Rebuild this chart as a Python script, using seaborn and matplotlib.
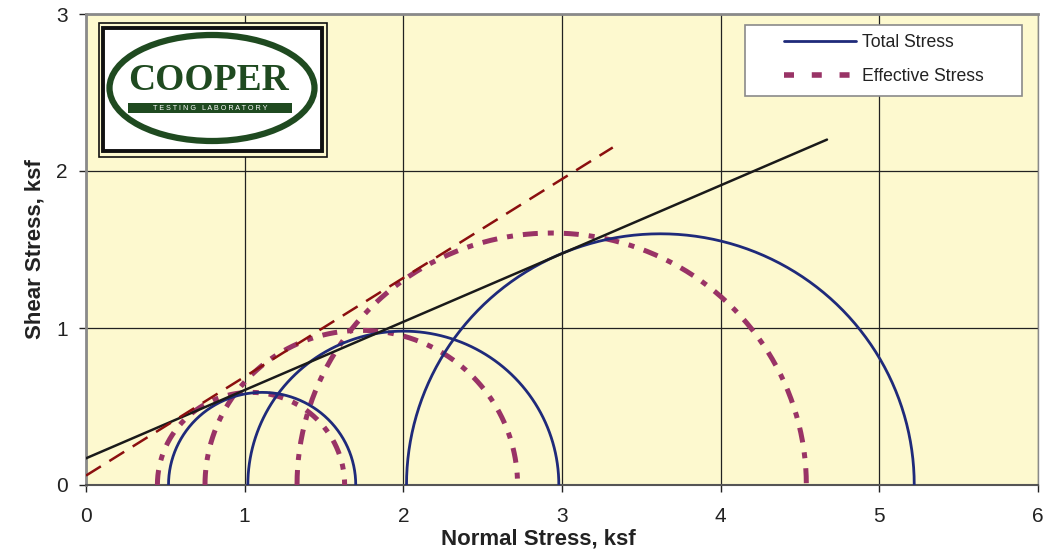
import numpy as np
import pandas as pd
import matplotlib
matplotlib.use("Agg")
import matplotlib.pyplot as plt
from matplotlib.lines import Line2D
from matplotlib.patches import Ellipse, Rectangle
import seaborn as sns

# Mohr circles: minor / major principal stress (ksf)
total_sigma3 = [0.52, 1.02, 2.02]
total_sigma1 = [1.70, 2.98, 5.22]
eff_sigma3 = [0.45, 0.75, 1.33]
eff_sigma1 = [1.63, 2.72, 4.54]

# Failure envelopes: (x, y) end points
total_env_x = [0.0, 4.67]
total_env_y = [0.17, 2.20]
eff_env_x = [0.0, 3.32]
eff_env_y = [0.06, 2.15]

x_ticks = [0, 1, 2, 3, 4, 5, 6]
y_ticks = [0, 1, 2, 3]

TOTAL_C = "#1f2a7a"
EFF_C = "#993366"
EFF_ENV_C = "#8b0f0f"
PLOT_BG = "#fdf9cf"


def circle_frame(s3_list, s1_list, kind):
    rows = []
    theta = np.linspace(np.pi, 0, 181)
    for i, (s3, s1) in enumerate(zip(s3_list, s1_list)):
        c, r = (s1 + s3) / 2, (s1 - s3) / 2
        for t in theta:
            rows.append({"sigma": c + r * np.cos(t), "tau": r * np.sin(t),
                         "test": f"{kind}{i}"})
    return pd.DataFrame(rows)


sns.set_theme(style="white")
plt.rcParams["font.family"] = ["Liberation Sans", "DejaVu Sans"]

fig = plt.figure(figsize=(10.46, 5.59), dpi=100)
W, H = 1046, 559
ax = fig.add_axes([86 / W, 1 - 485 / H, (1038 - 86) / W, (485 - 14) / H])
ax.set_facecolor(PLOT_BG)

tot = circle_frame(total_sigma3, total_sigma1, "t")
eff = circle_frame(eff_sigma3, eff_sigma1, "e")

for name, g in tot.groupby("test"):
    sns.lineplot(data=g, x="sigma", y="tau", sort=False, estimator=None,
                 color=TOTAL_C, lw=2.0, ax=ax, zorder=4)
for name, g in eff.groupby("test"):
    sns.lineplot(data=g, x="sigma", y="tau", sort=False, estimator=None,
                 color=EFF_C, lw=3.6, ax=ax, zorder=3,
                 dashes=False, linestyle=(0, (3.0, 2.0, 1.2, 2.0)))

sns.lineplot(x=total_env_x, y=total_env_y, color="#1a1a1a", lw=1.8,
             ax=ax, zorder=5)
sns.lineplot(x=eff_env_x, y=eff_env_y, color=EFF_ENV_C, lw=1.8, ax=ax,
             zorder=5, linestyle=(0, (7, 4)))

ax.set_xlim(0, 6)
ax.set_ylim(0, 3)
ax.set_xticks(x_ticks)
ax.set_yticks(y_ticks)
ax.grid(True, color="#222222", lw=0.9)
ax.set_axisbelow(True)
ax.tick_params(axis="both", labelsize=15, colors="#222222", length=5,
               width=1, direction="out", bottom=True, left=True)
ax.tick_params(axis="x", pad=11)
ax.tick_params(axis="y", pad=8)
for lbl in ax.get_xticklabels() + ax.get_yticklabels():
    lbl.set_color("#222222")

for side in ["left", "top"]:
    ax.spines[side].set_color("#8a8a8a")
    ax.spines[side].set_linewidth(2)
ax.spines["bottom"].set_color("#555555")
ax.spines["bottom"].set_linewidth(1.5)
ax.spines["right"].set_color("#8a8a8a")
ax.spines["right"].set_linewidth(1)

ax.set_xlabel("Normal Stress, ksf", fontsize=16, fontweight="bold",
              color="#222222", labelpad=0)
ax.xaxis.set_label_coords(0.475, -0.092)
ax.set_ylabel("Shear Stress, ksf", fontsize=16, fontweight="bold",
              color="#222222", labelpad=8)

# Legend: white box with a frameless legend inside
legend_box = Rectangle((745 / W, 1 - 96 / H), (1022 - 745) / W,
                       (96 - 25) / H, transform=fig.transFigure,
                       fc="white", ec="#8a8a8a", lw=1.2, zorder=10,
                       clip_on=False)
ax.add_artist(legend_box)
handles = [Line2D([], [], color=TOTAL_C, lw=2.0),
           Line2D([], [], color=EFF_C, lw=4.0, linestyle=(0, (1.8, 3.2)))]
leg = ax.legend(handles, ["Total Stress", "Effective Stress"],
                loc="center left", fontsize=12.7, frameon=False,
                handlelength=4.1, handletextpad=0.3, labelspacing=0.95,
                borderpad=0, borderaxespad=0)
leg.set_bbox_to_anchor((784 / W, 1 - 59.5 / H), transform=fig.transFigure)
leg.set_zorder(11)
for t in leg.get_texts():
    t.set_color("#222222")

# Laboratory logo
lx0, ly0, lx1, ly1 = 97, 21, 328, 158
lax = fig.add_axes([lx0 / W, 1 - ly1 / H, (lx1 - lx0) / W, (ly1 - ly0) / H])
lax.set_xlim(lx0, lx1)
lax.set_ylim(ly1, ly0)
lax.axis("off")
lax.add_patch(Rectangle((98.5, 22.5), 228, 134, fill=True, fc=PLOT_BG,
                        ec="#111111", lw=1.2))
lax.add_patch(Rectangle((103, 28), 219, 123, fill=True, fc="white",
                        ec="#111111", lw=2.8))
green = "#1f4a20"
lax.add_patch(Ellipse((212, 88), 205, 106, fill=False, ec=green, lw=4.5))
lax.text(208, 80, "COOPER", ha="center", va="center", fontsize=27,
         family="Liberation Serif", color=green, fontweight="bold")
lax.add_patch(Rectangle((128, 103), 164, 10, fc=green, ec="none"))
lax.text(210, 108.5, "T E S T I N G   L A B O R A T O R Y", ha="center",
         va="center", fontsize=5.2, color="white")

fig.savefig("out.png", dpi=100, facecolor="white")
